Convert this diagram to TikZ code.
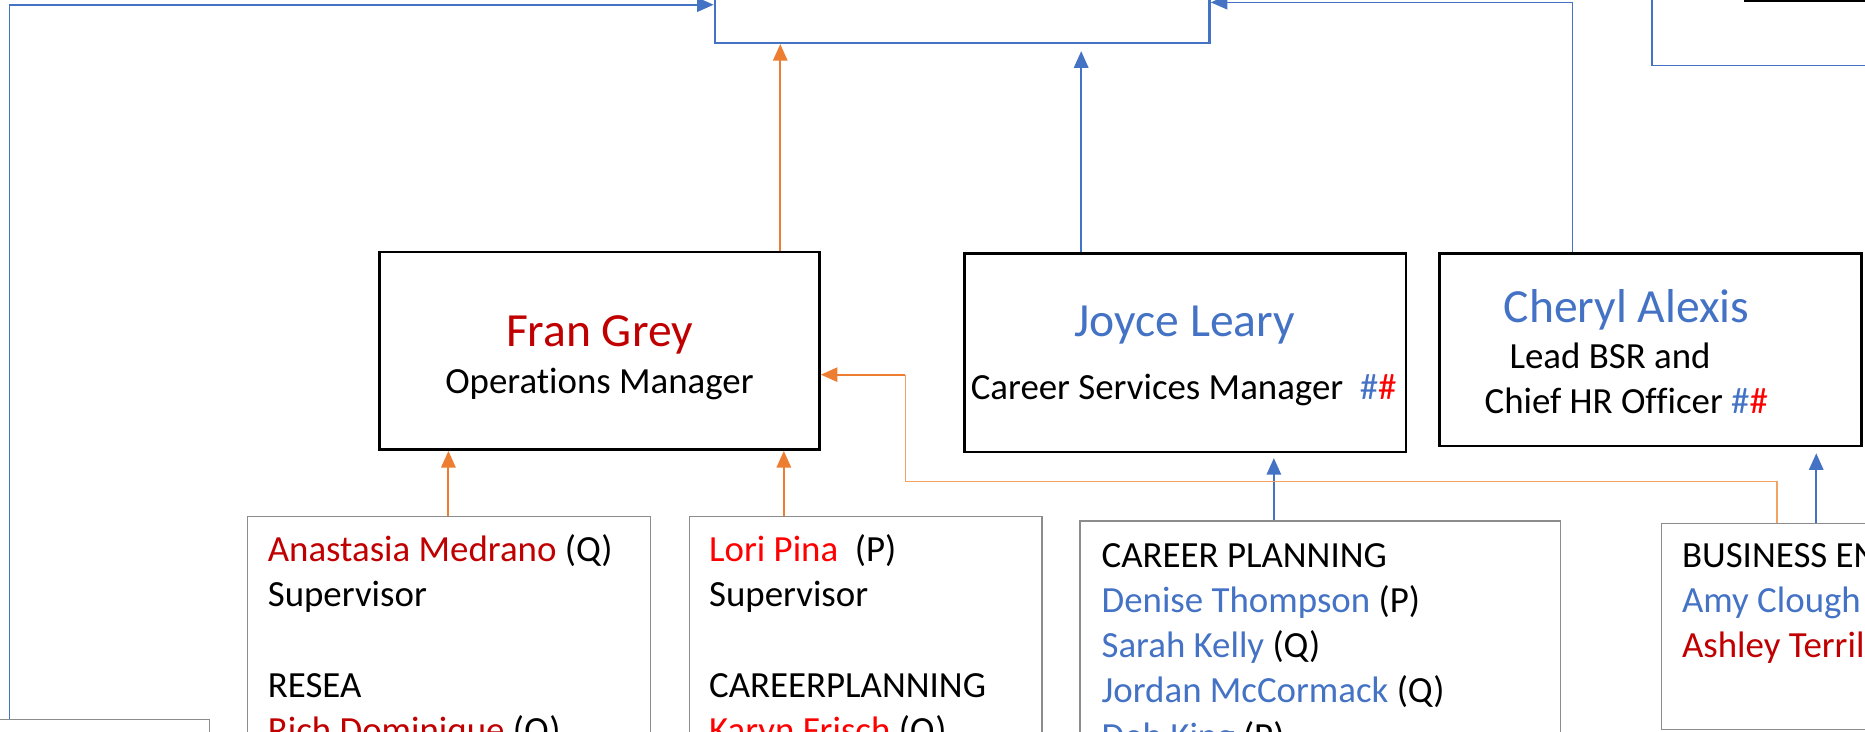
\documentclass[tikz,border=0pt]{standalone}
\usepackage{fontspec}
\setmainfont{Carlito}[Ligatures=NoCommon]
\usetikzlibrary{arrows.meta}
\definecolor{dred}{HTML}{C00000}
\definecolor{bred}{HTML}{FF0000}
\definecolor{oblue}{HTML}{4472C4}
\definecolor{oorange}{HTML}{ED7D31}
\definecolor{lorange}{HTML}{F4A261}
\definecolor{bgray}{HTML}{8C8C8C}
\tikzset{
  mgrbox/.style={draw=black, line width=2.2pt, rectangle, inner sep=0pt},
  listbox/.style={draw=bgray, line width=1pt, rectangle, inner sep=0pt},
  blueframe/.style={draw=oblue, line width=2pt, rectangle, inner sep=0pt},
  thinframe/.style={draw=oblue, line width=1.2pt, rectangle, inner sep=0pt},
  blackedge/.style={draw=black, line width=2.2pt, rectangle, inner sep=0pt},
  linetext/.style={anchor=base west, inner sep=0pt, font=\fontsize{31}{38}\selectfont},
  nametext/.style={anchor=base, inner sep=0pt, font=\fontsize{40}{48}\selectfont},
  oarrow/.style={draw=oorange, line width=1.8pt, -{Triangle[length=14pt,width=12pt]}},
  barrow/.style={draw=oblue, line width=1.8pt, -{Triangle[length=14pt,width=12pt]}},
  thinorange/.style={draw=lorange, line width=1.1pt},
  bluelink/.style={draw=oblue, line width=1.4pt, -{Triangle[length=14pt,width=12pt]}},
}
\begin{document}
\begin{tikzpicture}[x=1pt, y=-1pt]
\useasboundingbox (0,0) rectangle (1568,615);
\clip (0,0) rectangle (1568,615);

% helper coordinates
\coordinate (c8) at (8,0);
\coordinate (c4) at (0,4);
\coordinate (c2) at (0,2);
\coordinate (c1322) at (1322,0);
\coordinate (c656) at (656,0);
\coordinate (c909) at (909,0);
\coordinate (c377) at (377,0);
\coordinate (c659) at (659,0);
\coordinate (c1071) at (1071,0);
\coordinate (c1527) at (1527,0);
\coordinate (c1494) at (1494,0);
\coordinate (c405) at (0,405);
\coordinate (bend) at (761,315);

% boxes
\node[blueframe, minimum width=416pt, minimum height=96pt] (topbox) at (809,-12) {};
\node[thinframe, minimum width=261pt, minimum height=115pt] (trbox) at (1519.5,-2.5) {};
\node[blackedge, minimum width=183pt, minimum height=61pt] (blackbox) at (1558.5,-29.5) {};
\node[mgrbox, minimum width=370pt, minimum height=166pt] (fran) at (504,295) {};
\node[mgrbox, minimum width=371pt, minimum height=167pt] (joyce) at (996.5,296.5) {};
\node[mgrbox, minimum width=355pt, minimum height=162pt] (cheryl) at (1387.5,294) {};
\node[listbox, minimum width=339pt, minimum height=266pt] (anast) at (377.5,567) {};
\node[listbox, minimum width=296pt, minimum height=266pt] (lori) at (728,567) {};
\node[listbox, minimum width=404pt, minimum height=262pt] (career) at (1110,569) {};
\node[listbox, minimum width=253pt, minimum height=173pt] (business) at (1523.5,526.5) {};
\node[listbox, minimum width=236pt, minimum height=95pt] (blbox) at (58,652.5) {};

% manager texts
\node[nametext, text=dred] (franname) at (504,291) {Fran Grey};
\node[linetext, anchor=base] (frantitle) at (504,331) {Operations Manager};
\node[nametext, text=oblue] (joycename) at (996,283) {Joyce Leary};
\node[linetext] (joycetitle) at (816,336) {Career Services Manager\ \ \textcolor{oblue}{\#}\textcolor{bred}{\#}};
\node[nametext, text=oblue, anchor=base west] (cherylname) at (1264,271) {Cheryl Alexis};
\node[linetext] (cheryltitleA) at (1269,310) {Lead BSR and};
\node[linetext] (cheryltitleB) at (1248,348) {Chief HR Officer \textcolor{oblue}{\#}\textcolor{bred}{\#}};

% list texts
\node[linetext] (anasttext) at (225,472) {\parbox[t]{320pt}{\raggedright
  \textcolor{dred}{Anastasia Medrano} (Q)\\Supervisor\\\mbox{}\\RESEA\\\textcolor{dred}{Rich Dominique} (Q)}};
\node[linetext] (loritext) at (596,472) {\parbox[t]{320pt}{\raggedright
  \textcolor{bred}{Lori Pina}\ \ (P)\\Supervisor\\\mbox{}\\CAREERPLANNING\\\textcolor{bred}{Karyn Frisch} (Q)}};
\node[linetext] (careertext) at (926,477) {\parbox[t]{380pt}{\raggedright
  CAREER PLANNING\\\textcolor{oblue}{Denise Thompson} (P)\\\textcolor{oblue}{Sarah Kelly} (Q)\\\textcolor{oblue}{Jordan McCormack} (Q)\\\textcolor{oblue}{Deb King} (P)}};
\node[linetext] (businesstext) at (1414,477) {\parbox[t]{400pt}{\raggedright
  BUSINESS ENGAGEMENT\\\textcolor{oblue}{Amy Clough}\\\textcolor{dred}{Ashley Terrill}}};

% connectors
\draw[bluelink] (c8 |- blbox.north) |- (topbox.west |- c4);
\draw[bluelink, line width=1.1pt] (c1322 |- cheryl.north) |- (topbox.east |- c2);
\draw[oarrow] (fran.north -| c656) -- (topbox.south -| c656);
\draw[barrow, shorten >=6pt] (joyce.north -| c909) -- (topbox.south -| c909);
\draw[oarrow] (anast.north -| c377) -- (fran.south -| c377);
\draw[oarrow] (lori.north -| c659) -- (fran.south -| c659);
\draw[barrow, shorten >=4pt] (career.north -| c1071) -- (joyce.south -| c1071);
\draw[barrow, shorten >=5pt] (business.north -| c1527) -- (cheryl.south -| c1527);
\draw[thinorange] (c1494 |- business.north) |- (bend |- c405) -- (bend);
\draw[oarrow] (bend) -- (fran.east |- bend);
\end{tikzpicture}
\end{document}
